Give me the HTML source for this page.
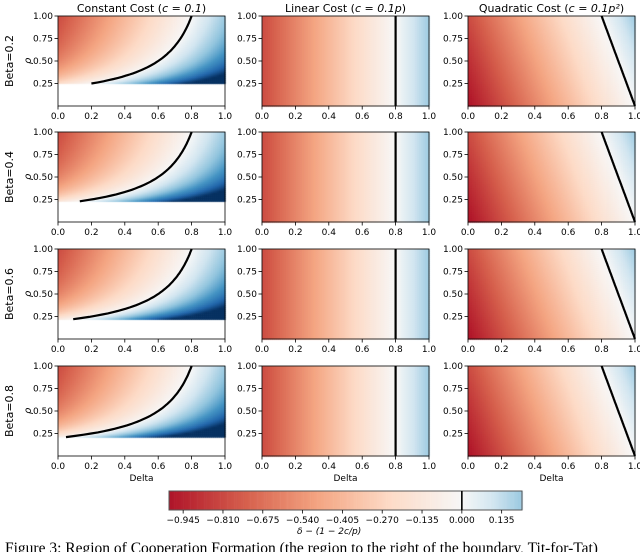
<!DOCTYPE html>
<html><head><meta charset="utf-8"><style>
body{margin:0;background:#fff;width:640px;height:552px;overflow:hidden;position:relative}
canvas,svg{position:absolute;left:0;top:0}
text{font-family:"DejaVu Sans","Liberation Sans",sans-serif;fill:#000}
</style></head><body>
<canvas id="cv" width="640" height="552"></canvas>
<svg id="sv" width="640" height="552"></svg>
<script>
// data
const betas = [0.2, 0.4, 0.6, 0.8];
const pMins = [0.25, 0.23, 0.22, 0.21];
const costCoef = 0.1;
const colTitles = ["Constant Cost (", "Linear Cost (", "Quadratic Cost ("];
const colTitleMath = ["c = 0.1", "c = 0.1p", "c = 0.1p²"];
const xTicks = [0.0, 0.2, 0.4, 0.6, 0.8, 1.0];
const yTicks = [0.25, 0.50, 0.75, 1.00];
const cbTicks = [-0.945, -0.810, -0.675, -0.540, -0.405, -0.270, -0.135, 0.000, 0.135];
const cbMin = -0.993, cbMax = 0.204;

const colX = [58, 262, 468], W = 167, rowY = [16, 132, 249, 366], H = 90;
const cv = document.getElementById('cv'), ctx = cv.getContext('2d');
const sv = document.getElementById('sv'), NS = 'http://www.w3.org/2000/svg';
const stops = [[0,[103,0,31]],[.1,[178,24,43]],[.2,[214,96,77]],[.3,[244,165,130]],[.4,[253,219,199]],[.5,[247,247,247]],[.6,[209,229,240]],[.7,[146,197,222]],[.8,[67,147,195]],[.9,[33,102,172]],[1,[5,48,97]]];
function cmap(t){t=Math.max(0,Math.min(1,t));for(let i=1;i<stops.length;i++){if(t<=stops[i][0]){const a=stops[i-1],b=stops[i];const f=(t-a[0])/(b[0]-a[0]);return 'rgb('+a[1].map((v,k)=>Math.round(v+(b[1][k]-v)*f)).join(',')+')';}}return 'rgb(5,48,97)';}
function colorOf(v){return v<0?cmap(0.5+0.41*v):cmap(0.5+0.5*v/0.55);}
function cost(col,p){return col===0?costCoef:col===1?costCoef*p:costCoef*p*p;}
function val(col,d,p){return d-(1-2*cost(col,p)/p);}
function el(tag,attrs,txt){const e=document.createElementNS(NS,tag);for(const k in attrs)e.setAttribute(k,attrs[k]);if(txt!==undefined)e.textContent=txt;sv.appendChild(e);return e;}

for(let r=0;r<4;r++){
  for(let c=0;c<3;c++){
    const x0=colX[c], y0=rowY[r];
    const sx=d=>x0+d*W, sy=p=>y0+H-p*H;
    const pLo = c===0 ? pMins[r] : 0.001;
    const N=84, M=45;
    for(let i=0;i<N;i++)for(let j=0;j<M;j++){
      const d=(i+0.5)/N, p=(j+0.5)/M;
      if((j+1)/M<=pLo) continue;
      ctx.fillStyle=colorOf(val(c,d,Math.max(p,pLo)));
      const ya=sy(Math.min(1,(j+1)/M)), yb=sy(Math.max(pLo,j/M));
      ctx.fillRect(sx(i/N),ya,W/N+0.6,yb-ya+0.6);
    }
    let pts=[];
    for(let k=0;k<=60;k++){const p=pLo+(1-pLo)*k/60;const d=1-2*cost(c,p)/p;if(d>=0&&d<=1)pts.push(sx(d).toFixed(1)+','+sy(p).toFixed(1));}
    const bl=el('polyline',{points:pts.join(' '),fill:'none',stroke:'#000','stroke-width':2.2});
    
    
    const fr=el('rect',{x:x0,y:y0,width:W,height:H,fill:'none',stroke:'#000','stroke-width':0.8});
    
    
    xTicks.forEach(t=>{el('line',{x1:sx(t),x2:sx(t),y1:y0+H,y2:y0+H+3.5,stroke:'#000','stroke-width':0.8});
      const tl=el('text',{x:sx(t),y:y0+H+13,'font-size':9,'text-anchor':'middle'},t.toFixed(1));
      
      });
    yTicks.forEach(t=>{el('line',{x1:x0-3.5,x2:x0,y1:sy(t),y2:sy(t),stroke:'#000','stroke-width':0.8});
      const tl=el('text',{x:x0-5,y:sy(t)+3,'font-size':9,'text-anchor':'end'},t.toFixed(2));
      
      });
    if(c===0){const yl=el('text',{x:0,y:0,'font-size':10,'font-style':'italic','text-anchor':'middle',transform:'translate(31,'+(y0+H/2)+') rotate(-90)'},'ρ');
      
      
      const bl2=el('text',{x:0,y:0,'font-size':11,'text-anchor':'middle',transform:'translate(13,'+(y0+H/2)+') rotate(-90)'},'Beta='+betas[r]);
      
      }
    if(r===0){const tt=el('text',{x:x0+W/2,y:12,'font-size':11,'text-anchor':'middle'});
      
      
      const a=document.createElementNS(NS,'tspan');a.textContent=colTitles[c];tt.appendChild(a);
      const b=document.createElementNS(NS,'tspan');b.setAttribute('font-style','italic');b.textContent=colTitleMath[c];tt.appendChild(b);
      const e2=document.createElementNS(NS,'tspan');e2.textContent=')';tt.appendChild(e2);}
    if(r===3){const xl=el('text',{x:x0+W/2,y:y0+H+25,'font-size':9,'text-anchor':'middle'},'Delta');
      
      }
  }
}
// colorbar
const cbx0=169,cbx1=522,cby=491,cbh=19;
const cs=v=>cbx0+(v-cbMin)/(cbMax-cbMin)*(cbx1-cbx0);
for(let i=0;i<200;i++){const v=cbMin+(cbMax-cbMin)*(i+0.5)/200;ctx.fillStyle=colorOf(v);ctx.fillRect(cbx0+(cbx1-cbx0)*i/200,cby,(cbx1-cbx0)/200+0.6,cbh);}
const cbf=el('rect',{x:cbx0,y:cby,width:cbx1-cbx0,height:cbh,fill:'none',stroke:'#555','stroke-width':1});


el('line',{x1:cs(0),x2:cs(0),y1:cby,y2:cby+cbh,stroke:'#000','stroke-width':1.6});
cbTicks.forEach(t=>{el('line',{x1:cs(t),x2:cs(t),y1:cby+cbh,y2:cby+cbh+3.5,stroke:'#000','stroke-width':0.8});
  const tl=el('text',{x:cs(t),y:cby+cbh+13,'font-size':9,'text-anchor':'middle'},t.toFixed(3).replace('-','−'));
  
  });
const cl=el('text',{x:cs(-0.45),y:534,'font-size':9,'font-style':'italic','text-anchor':'middle'},'δ − (1 − 2c/p)');


const cap=el('text',{x:5,y:553,'font-size':15.5,style:'font-family:"Liberation Serif",serif'},'Figure 3: Region of Cooperation Formation (the region to the right of the boundary, Tit-for-Tat)');


</script></body></html>
